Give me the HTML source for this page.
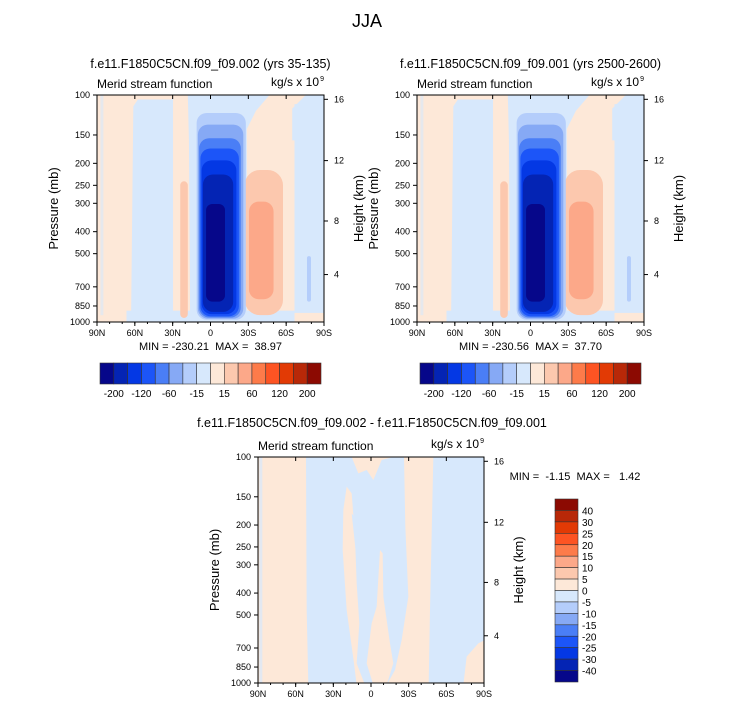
<!DOCTYPE html>
<html><head><meta charset="utf-8">
<style>
html,body{margin:0;padding:0;background:#fff;}
svg{display:block;font-family:"Liberation Sans",sans-serif;}
svg text{white-space:pre;}
</style></head>
<body>
<svg id="fig" width="733" height="708" viewBox="0 0 733 708" xmlns="http://www.w3.org/2000/svg">
<text x="367" y="27" font-size="18" text-anchor="middle">JJA</text>
</svg>
<script>
// ---- data arrays ----
const pressureTicks = [100,150,200,250,300,400,500,700,850,1000];
const heightTicks = [16,12,8,4];
const heightFrac = [0.019,0.289,0.555,0.791];
const latTicks = ["90N","60N","30N","0","30S","60S","90S"];
const cbLevelsTop = [-200,-160,-120,-80,-60,-30,-15,0,15,30,60,80,120,160,200];
const cbLabelsTop = [-200,-120,-60,-15,15,60,120,200];
const cbLevelsDiff = [40,30,25,20,15,10,5,0,-5,-10,-15,-20,-25,-30,-40];
const colorsTop = ["#06078a","#0424b4","#0438e4","#1c55f8","#4a7ef6","#86a9f5","#b4cdfb","#d7e8fc","#fde8d8","#fcc8ae","#fca889","#fd7b4a","#fd5423","#e23a05","#b82808","#8c0a02"];
// field contours (lat in degrees: +N left, pressure in mb) for the two top panels
const coreLat0 = [11,10,9,8,7,6,3.5];
const coreLat1 = [-28,-26,-24,-22.5,-20.5,-18,-11.5];
const coreP0 = [120,135,155,172,194,224,302];
const coreP1 = [977,966,955,944,923,902,813];
const coreColorIdx = [6,5,4,3,2,1,0];
const posLat0 = [-27,-30.5];
const posLat1 = [-57.5,-50];
const posP0 = [214,295];
const posP1 = [933,794];
const posColorIdx = [9,10];

const NS='http://www.w3.org/2000/svg';
const svg=document.getElementById('fig');
function el(tag,attrs,parent){const e=document.createElementNS(NS,tag);for(const k in attrs)e.setAttribute(k,attrs[k]);(parent||svg).appendChild(e);return e;}
function txt(x,y,s,size,anchor,parent){const t=el('text',{x:x,y:y,'font-size':size,'text-anchor':anchor||'middle'},parent);t.textContent=s;return t;}

function makeAxes(X0,Y0,W,H){
  const xs=lat=>X0+(90-lat)/180*W;
  const ys=p=>Y0+(1-Math.log(1000/p)/Math.log(10))*H;
  return {xs,ys};
}
function frame(g,X0,Y0,W,H,ax){
  el('rect',{x:X0,y:Y0,width:W,height:H,fill:'none',stroke:'#000','stroke-width':1},g);
  pressureTicks.forEach(p=>{
    const y=ax.ys(p);
    el('line',{x1:X0-4,y1:y,x2:X0,y2:y,stroke:'#000'},g);
    const t=txt(X0-7,y+3,String(p),9,'end',g);
    
    
  });
  heightTicks.forEach((h,i)=>{
    const y=Y0+heightFrac[i]*H;
    el('line',{x1:X0+W,y1:y,x2:X0+W+4,y2:y,stroke:'#000'},g);
    const t=txt(X0+W+10,y+3,String(h),9,'start',g);
    
    
  });
  latTicks.forEach((l,i)=>{
    const x=X0+i/6*W;
    el('line',{x1:x,y1:Y0+H,x2:x,y2:Y0+H+4,stroke:'#000'},g);
    el('line',{x1:x,y1:Y0,x2:x,y2:Y0+4,stroke:'#000'},g);
    const t=txt(x,Y0+H+14,l,9,'middle',g);
    
    
  });
  for(let i=0;i<18;i++){const x=X0+i/18*W;el('line',{x1:x,y1:Y0+H,x2:x,y2:Y0+H+2,stroke:'#000'},g);}
  const py=Y0+H/2;
  const t1=txt(0,0,'Pressure (mb)',13,'middle',g);
  t1.setAttribute('transform',`translate(${X0-39},${py}) rotate(-90)`);
  
  
  const t2=txt(0,0,'Height (km)',13,'middle',g);
  t2.setAttribute('transform',`translate(${X0+W+39},${py}) rotate(-90)`);
  
  
  const t3=txt(X0,Y0-7,'Merid stream function',12,'start',g);
  
  
  const t4=txt(X0+W,Y0-9,'kg/s x 10',12,'end',g);
  t4.setAttribute('dx','-5');
  
  
  txt(X0+W,Y0-14,'9',7,'end',g);
}
function topPanel(X0,Y0,W,H,title,minmax,name){
  const g=el('g',{});
  
  
  const ax=makeAxes(X0,Y0,W,H);
  const u=f=>X0+f*W, v=f=>Y0+f*H;
  const clip='clip-'+name;
  const cp=el('clipPath',{id:clip},g);el('rect',{x:X0,y:Y0,width:W,height:H},cp);
  const fg=el('g',{'clip-path':`url(#${clip})`},g);
  el('rect',{x:X0,y:Y0,width:W,height:H,fill:colorsTop[8]},fg);
  const lb=colorsTop[7];
  el('path',{d:`M${u(0.15)},${v(1)} L${u(0.16)},${v(0.05)} L${u(0.18)},${v(0.02)} L${u(0.33)},${v(0.02)} L${u(0.335)},${v(0)} L${u(0.76)},${v(0)} L${u(0.70)},${v(0.07)} L${u(0.66)},${v(0.15)} L${u(0.66)},${v(1)} Z`,fill:lb},fg);
  el('path',{d:`M${u(0.335)},${v(0.0)} L${u(0.40)},${v(0.0)} L${u(0.405)},${v(0.2)} L${u(0.41)},${v(0.96)} L${u(0.335)},${v(0.96)} Z`,fill:colorsTop[8]},fg);
  el('rect',{x:u(0.87),y:v(0.04),width:u(1)-u(0.87),height:v(0.96)-v(0.04),fill:lb},fg);
  el('path',{d:`M${u(0.86)},${v(0.06)} L${u(0.92)},${v(0)} L${u(1)},${v(0)} L${u(1)},${v(0.2)} L${u(0.86)},${v(0.2)} Z`,fill:lb},fg);
  el('rect',{x:u(0.13),y:v(0.95),width:u(0.87)-u(0.13),height:v(1)-v(0.95),fill:lb},fg);
  el('rect',{x:u(0.015),y:v(0),width:3,height:H*0.97,fill:lb,opacity:0.6},fg);
  el('rect',{x:u(0.925),y:v(0.71),width:4,height:H*0.2,rx:2,fill:colorsTop[6]},fg);
  // left stripe
  el('rect',{x:ax.xs(24),y:ax.ys(240),width:ax.xs(18)-ax.xs(24),height:ax.ys(960)-ax.ys(240),rx:4,fill:colorsTop[9]},fg);
  for(let i=0;i<posLat0.length;i++){
    const x0=ax.xs(posLat0[i]),x1=ax.xs(posLat1[i]),y0=ax.ys(posP0[i]),y1=ax.ys(posP1[i]);
    const r=el('rect',{x:x0,y:y0,width:x1-x0,height:y1-y0,rx:(x1-x0)/2.5,fill:colorsTop[posColorIdx[i]]},fg);
    
    
  }
  for(let i=0;i<coreLat0.length;i++){
    const x0=ax.xs(coreLat0[i]),x1=ax.xs(coreLat1[i]),y0=ax.ys(coreP0[i]),y1=ax.ys(coreP1[i]);
    const r=el('rect',{x:x0,y:y0,width:x1-x0,height:y1-y0,rx:Math.min(10,(x1-x0)/3),fill:colorsTop[coreColorIdx[i]]},fg);
    
    
  }
  frame(g,X0,Y0,W,H,ax);
  const t=txt(X0+W/2,Y0-27,title,12.5,'middle',g);
  
  
  const m=txt(X0+W/2,Y0+H+28,minmax,11,'middle',g);
  
  
  const cbx=X0+3,cby=363,cbw=221,cbh=21,bw=cbw/16;
  colorsTop.forEach((c,i)=>{
    const r=el('rect',{x:cbx+i*bw,y:cby,width:bw,height:cbh,fill:c,stroke:'#333','stroke-width':0.6},g);
    
    
  });
  cbLevelsTop.forEach((lv,i)=>{
    if(cbLabelsTop.indexOf(lv)<0) return;
    const t=txt(cbx+(i+1)*bw,cby+cbh+13,String(lv),10,'middle',g);
    
    
  });
}
topPanel(97,95,227,227,'f.e11.F1850C5CN.f09_f09.002 (yrs 35-135)','MIN = -230.21  MAX =  38.97','panel-case1');
topPanel(417,95,227,227,'f.e11.F1850C5CN.f09_f09.001 (yrs 2500-2600)','MIN = -230.56  MAX =  37.70','panel-case2');

(function(){
  const X0=258,Y0=457,W=226,H=226;
  const g=el('g',{});
  
  
  const ax=makeAxes(X0,Y0,W,H);
  const zx=x=>200+x/3, zy=y=>410+y/3;
  const cp=el('clipPath',{id:'clip-diff'},g);el('rect',{x:X0,y:Y0,width:W,height:H},cp);
  const fg=el('g',{'clip-path':'url(#clip-diff)'},g);
  el('rect',{x:X0,y:Y0,width:W,height:H,fill:'#fde8d8'},fg);
  const poly=(pts,fill)=>el('path',{d:'M'+pts.map(p=>zx(p[0])+','+zy(p[1])).join(' L')+' Z',fill:fill},fg);
  const lb='#d7e8fc',pe='#fde8d8';
  poly([[318,141],[612,141],[616,350],[625,560],[605,690],[585,780],[560,825],[325,825],[320,600]],lb);
  poly([[700,141],[855,141],[855,690],[835,700],[800,740],[790,825],[686,825],[690,600]],lb);
  poly([[455,141],[580,141],[545,150],[520,210],[500,180],[475,190]],pe);
  poly([[430,300],[440,230],[455,250],[465,380],[470,520],[478,640],[470,760],[495,825],[520,825],[500,760],[515,640],[530,590],[540,420],[548,430],[550,560],[570,700],[580,760],[560,825],[470,825],[462,760],[440,600],[428,420]],pe);
  poly([[455,310],[470,330],[480,420],[470,450]],lb);
  el('rect',{x:zx(178),y:Y0,width:3,height:H,fill:lb,opacity:0.7},fg);
  frame(g,X0,Y0,W,H,ax);
  const t=txt(372,427,'f.e11.F1850C5CN.f09_f09.002 - f.e11.F1850C5CN.f09_f09.001',12.5,'middle',g);
  
  
  const m=txt(575,480,'MIN =  -1.15  MAX =   1.42',11,'middle',g);
  
  
  const cbx=555,cby=499,cbw=23,cbh=183,bh=cbh/16;
  const colorsDiff=colorsTop.slice().reverse();
  colorsDiff.forEach((c,i)=>{
    const r=el('rect',{x:cbx,y:cby+i*bh,width:cbw,height:bh,fill:c,stroke:'#333','stroke-width':0.6},g);
    
    
  });
  cbLevelsDiff.forEach((lv,i)=>{
    const tt=txt(cbx+cbw+4,cby+(i+1)*bh+4,String(lv),10,'start',g);
    
    
  });
})();
</script>
</body></html>
